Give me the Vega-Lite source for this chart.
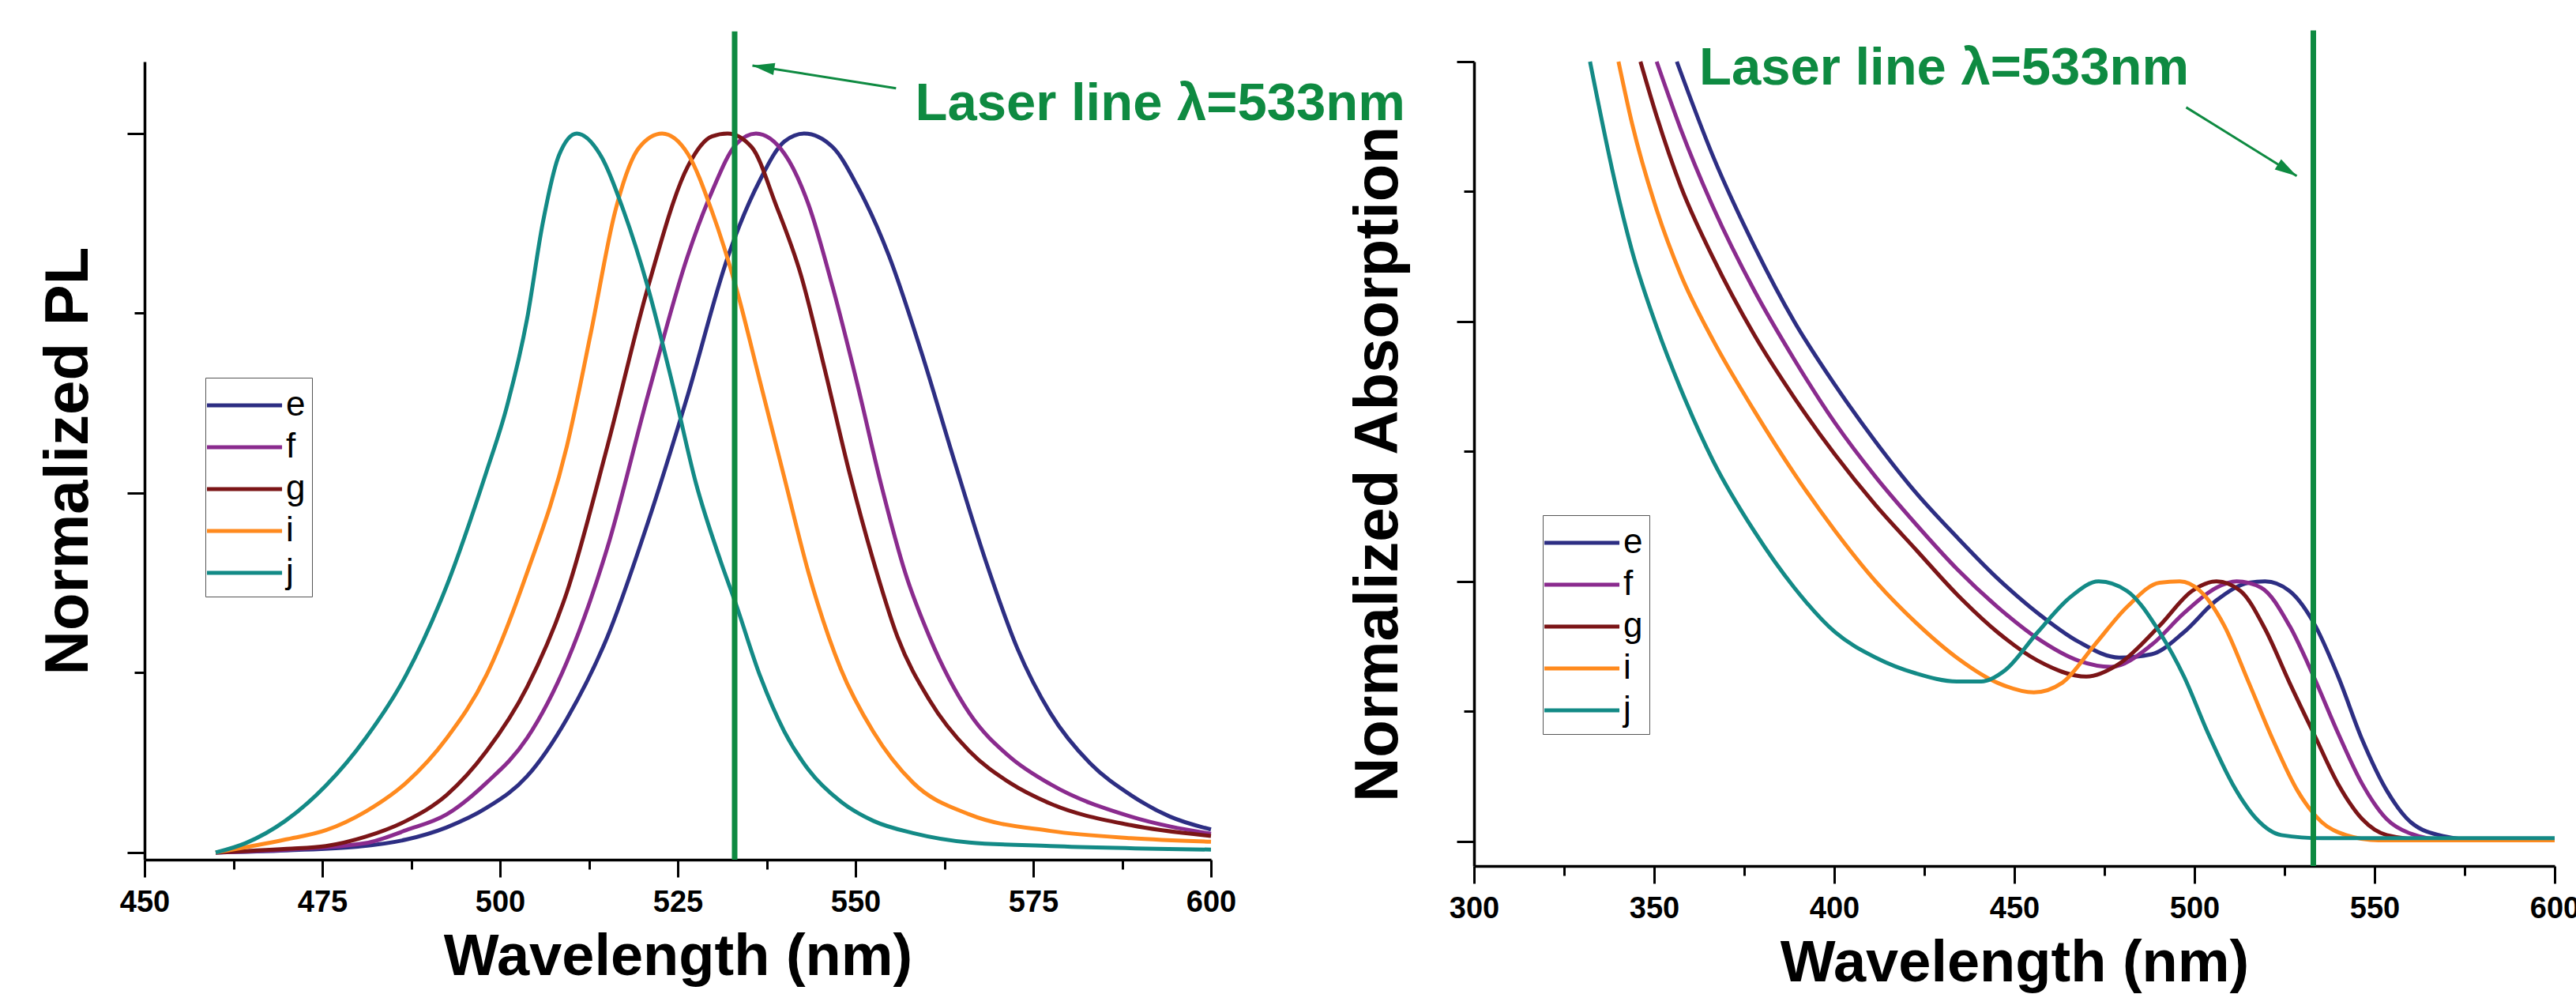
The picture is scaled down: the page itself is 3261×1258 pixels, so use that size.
{
  "$schema": "https://vega.github.io/schema/vega-lite/v6.json",
  "background": "white",
  "padding": {"left": 48, "top": 35, "right": 5, "bottom": 5},
  "bounds": "flush",
  "spacing": 333,
  "config": {
    "view": {"stroke": null},
    "axis": {
      "grid": false,
      "labelFont": "Liberation Sans", "labelFontWeight": "bold", "labelFontSize": 38, "labelColor": "#000",
      "titleFont": "Liberation Sans", "titleFontWeight": "bold", "titleFontSize": 74, "titleColor": "#000",
      "domainColor": "#000", "domainWidth": 3.5, "tickColor": "#000", "tickWidth": 3
    },
    "legend": {"labelFont": "Liberation Sans", "labelFontSize": 44, "labelColor": "#000"}
  },
  "datasets": {
    "pl": [
      {"s":"e","wl":460,"v":0},{"s":"e","wl":470,"v":0.003},{"s":"e","wl":480,"v":0.008},{"s":"e","wl":486.8,"v":0.018},{"s":"e","wl":492.5,"v":0.035},{"s":"e","wl":498.1,"v":0.062},{"s":"e","wl":503.8,"v":0.106},{"s":"e","wl":509.4,"v":0.186},{"s":"e","wl":515.1,"v":0.3},{"s":"e","wl":520.8,"v":0.459},{"s":"e","wl":526.4,"v":0.636},{"s":"e","wl":532.1,"v":0.83},{"s":"e","wl":536.6,"v":0.936},{"s":"e","wl":540,"v":0.989},{"s":"e","wl":542.8,"v":1.0},{"s":"e","wl":546.8,"v":0.981},{"s":"e","wl":550.2,"v":0.928},{"s":"e","wl":554.7,"v":0.83},{"s":"e","wl":559.2,"v":0.698},{"s":"e","wl":563.8,"v":0.548},{"s":"e","wl":568.3,"v":0.406},{"s":"e","wl":572.8,"v":0.283},{"s":"e","wl":577.4,"v":0.194},{"s":"e","wl":583,"v":0.124},{"s":"e","wl":588.7,"v":0.08},{"s":"e","wl":594.2,"v":0.05},{"s":"e","wl":600,"v":0.032},
      {"s":"f","wl":460,"v":0},{"s":"f","wl":470,"v":0.004},{"s":"f","wl":481.1,"v":0.013},{"s":"f","wl":486.8,"v":0.031},{"s":"f","wl":492.5,"v":0.053},{"s":"f","wl":498.1,"v":0.097},{"s":"f","wl":503.8,"v":0.159},{"s":"f","wl":509.4,"v":0.265},{"s":"f","wl":515.1,"v":0.424},{"s":"f","wl":520.8,"v":0.636},{"s":"f","wl":526.4,"v":0.83},{"s":"f","wl":529.8,"v":0.919},{"s":"f","wl":533.2,"v":0.985},{"s":"f","wl":536,"v":1.0},{"s":"f","wl":540,"v":0.972},{"s":"f","wl":543.4,"v":0.901},{"s":"f","wl":546.8,"v":0.786},{"s":"f","wl":550.2,"v":0.654},{"s":"f","wl":553.6,"v":0.512},{"s":"f","wl":557,"v":0.389},{"s":"f","wl":560.4,"v":0.3},{"s":"f","wl":566,"v":0.194},{"s":"f","wl":571.7,"v":0.133},{"s":"f","wl":577.4,"v":0.095},{"s":"f","wl":588.7,"v":0.05},{"s":"f","wl":600,"v":0.026},
      {"s":"g","wl":460,"v":0},{"s":"g","wl":470,"v":0.005},{"s":"g","wl":475.5,"v":0.009},{"s":"g","wl":481.1,"v":0.022},{"s":"g","wl":486.8,"v":0.044},{"s":"g","wl":492.5,"v":0.08},{"s":"g","wl":498.1,"v":0.141},{"s":"g","wl":503.8,"v":0.23},{"s":"g","wl":509.4,"v":0.362},{"s":"g","wl":515.1,"v":0.565},{"s":"g","wl":520.8,"v":0.786},{"s":"g","wl":526.4,"v":0.954},{"s":"g","wl":529.8,"v":0.996},{"s":"g","wl":532,"v":1.0},{"s":"g","wl":535.4,"v":0.981},{"s":"g","wl":538.8,"v":0.901},{"s":"g","wl":542.3,"v":0.804},{"s":"g","wl":545.7,"v":0.671},{"s":"g","wl":549.1,"v":0.53},{"s":"g","wl":552.5,"v":0.406},{"s":"g","wl":555.9,"v":0.3},{"s":"g","wl":560.4,"v":0.212},{"s":"g","wl":566,"v":0.141},{"s":"g","wl":571.7,"v":0.097},{"s":"g","wl":577.4,"v":0.068},{"s":"g","wl":588.7,"v":0.038},{"s":"g","wl":600,"v":0.023},
      {"s":"i","wl":460,"v":0},{"s":"i","wl":469.8,"v":0.018},{"s":"i","wl":475.5,"v":0.031},{"s":"i","wl":481.1,"v":0.057},{"s":"i","wl":486.8,"v":0.097},{"s":"i","wl":492.5,"v":0.159},{"s":"i","wl":498.1,"v":0.247},{"s":"i","wl":503.8,"v":0.389},{"s":"i","wl":509.4,"v":0.565},{"s":"i","wl":512.8,"v":0.724},{"s":"i","wl":516.2,"v":0.892},{"s":"i","wl":519.6,"v":0.981},{"s":"i","wl":522.8,"v":1.0},{"s":"i","wl":526.4,"v":0.972},{"s":"i","wl":529.8,"v":0.892},{"s":"i","wl":533.2,"v":0.786},{"s":"i","wl":536.6,"v":0.654},{"s":"i","wl":540,"v":0.521},{"s":"i","wl":543.4,"v":0.389},{"s":"i","wl":547.9,"v":0.256},{"s":"i","wl":552.5,"v":0.168},{"s":"i","wl":558.1,"v":0.097},{"s":"i","wl":566,"v":0.053},{"s":"i","wl":577.4,"v":0.03},{"s":"i","wl":588.7,"v":0.02},{"s":"i","wl":600,"v":0.015},
      {"s":"j","wl":460,"v":0},{"s":"j","wl":464.2,"v":0.013},{"s":"j","wl":469.8,"v":0.044},{"s":"j","wl":475.5,"v":0.093},{"s":"j","wl":481.1,"v":0.159},{"s":"j","wl":486.8,"v":0.247},{"s":"j","wl":492.5,"v":0.371},{"s":"j","wl":498.1,"v":0.53},{"s":"j","wl":500.9,"v":0.618},{"s":"j","wl":503.8,"v":0.742},{"s":"j","wl":506,"v":0.875},{"s":"j","wl":508.3,"v":0.97},{"s":"j","wl":510.8,"v":1.0},{"s":"j","wl":514,"v":0.972},{"s":"j","wl":517.4,"v":0.892},{"s":"j","wl":520.8,"v":0.786},{"s":"j","wl":524.2,"v":0.654},{"s":"j","wl":527.6,"v":0.512},{"s":"j","wl":531,"v":0.406},{"s":"j","wl":533.2,"v":0.345},{"s":"j","wl":536.6,"v":0.245},{"s":"j","wl":540,"v":0.168},{"s":"j","wl":543.4,"v":0.115},{"s":"j","wl":547.9,"v":0.071},{"s":"j","wl":552.5,"v":0.044},{"s":"j","wl":558.1,"v":0.027},{"s":"j","wl":566,"v":0.014},{"s":"j","wl":577.4,"v":0.009},{"s":"j","wl":600,"v":0.004}
    ],
    "abs": [
      {"s":"e","wl":356.3,"v":3.0},{"s":"e","wl":366.4,"v":2.634},{"s":"e","wl":377.7,"v":2.293},{"s":"e","wl":388.9,"v":2.0},{"s":"e","wl":400.2,"v":1.756},{"s":"e","wl":411.5,"v":1.537},{"s":"e","wl":422.7,"v":1.341},{"s":"e","wl":434,"v":1.171},{"s":"e","wl":445.3,"v":1.012},{"s":"e","wl":456.5,"v":0.878},{"s":"e","wl":467.8,"v":0.768},{"s":"e","wl":479.1,"v":0.707},{"s":"e","wl":488.1,"v":0.72},{"s":"e","wl":497.1,"v":0.805},{"s":"e","wl":506.1,"v":0.927},{"s":"e","wl":515.1,"v":0.995},{"s":"e","wl":519.6,"v":1.0},{"s":"e","wl":526.4,"v":0.963},{"s":"e","wl":533.1,"v":0.841},{"s":"e","wl":539.9,"v":0.634},{"s":"e","wl":546.6,"v":0.39},{"s":"e","wl":553.4,"v":0.195},{"s":"e","wl":560.1,"v":0.073},{"s":"e","wl":569.1,"v":0.02},{"s":"e","wl":578.2,"v":0.006},{"s":"e","wl":600,"v":0.008},
      {"s":"f","wl":350.7,"v":3.0},{"s":"f","wl":357.4,"v":2.74},{"s":"f","wl":366.4,"v":2.439},{"s":"f","wl":377.7,"v":2.122},{"s":"f","wl":388.9,"v":1.854},{"s":"f","wl":400.2,"v":1.61},{"s":"f","wl":411.5,"v":1.402},{"s":"f","wl":422.7,"v":1.22},{"s":"f","wl":434,"v":1.049},{"s":"f","wl":445.3,"v":0.902},{"s":"f","wl":456.5,"v":0.78},{"s":"f","wl":467.8,"v":0.695},{"s":"f","wl":476.8,"v":0.671},{"s":"f","wl":488.1,"v":0.756},{"s":"f","wl":497.1,"v":0.878},{"s":"f","wl":506.1,"v":0.976},{"s":"f","wl":511.7,"v":1.0},{"s":"f","wl":518.5,"v":0.976},{"s":"f","wl":526.4,"v":0.829},{"s":"f","wl":533.1,"v":0.634},{"s":"f","wl":539.9,"v":0.415},{"s":"f","wl":546.6,"v":0.22},{"s":"f","wl":553.4,"v":0.085},{"s":"f","wl":560.1,"v":0.029},{"s":"f","wl":569.1,"v":0.006},{"s":"f","wl":600,"v":0.006},
      {"s":"g","wl":346.2,"v":3.0},{"s":"g","wl":350.7,"v":2.79},{"s":"g","wl":357.4,"v":2.52},{"s":"g","wl":366.4,"v":2.244},{"s":"g","wl":377.7,"v":1.951},{"s":"g","wl":388.9,"v":1.707},{"s":"g","wl":400.2,"v":1.488},{"s":"g","wl":411.5,"v":1.293},{"s":"g","wl":422.7,"v":1.122},{"s":"g","wl":434,"v":0.951},{"s":"g","wl":445.3,"v":0.805},{"s":"g","wl":456.5,"v":0.695},{"s":"g","wl":470,"v":0.634},{"s":"g","wl":479.1,"v":0.683},{"s":"g","wl":490.3,"v":0.829},{"s":"g","wl":499.3,"v":0.963},{"s":"g","wl":506.1,"v":1.0},{"s":"g","wl":512.8,"v":0.963},{"s":"g","wl":519.6,"v":0.817},{"s":"g","wl":526.4,"v":0.61},{"s":"g","wl":533.1,"v":0.415},{"s":"g","wl":539.9,"v":0.22},{"s":"g","wl":546.6,"v":0.085},{"s":"g","wl":553.4,"v":0.024},{"s":"g","wl":564.6,"v":0.005},{"s":"g","wl":600,"v":0.005},
      {"s":"i","wl":340.1,"v":3.0},{"s":"i","wl":343.9,"v":2.76},{"s":"i","wl":350.7,"v":2.43},{"s":"i","wl":357.4,"v":2.18},{"s":"i","wl":366.4,"v":1.927},{"s":"i","wl":377.7,"v":1.659},{"s":"i","wl":388.9,"v":1.415},{"s":"i","wl":400.2,"v":1.195},{"s":"i","wl":411.5,"v":1.0},{"s":"i","wl":422.7,"v":0.841},{"s":"i","wl":434,"v":0.707},{"s":"i","wl":445.3,"v":0.61},{"s":"i","wl":455.4,"v":0.573},{"s":"i","wl":463.3,"v":0.61},{"s":"i","wl":472.3,"v":0.756},{"s":"i","wl":481.3,"v":0.902},{"s":"i","wl":490.3,"v":0.995},{"s":"i","wl":495.9,"v":1.0},{"s":"i","wl":501.6,"v":0.963},{"s":"i","wl":508.3,"v":0.829},{"s":"i","wl":515.1,"v":0.61},{"s":"i","wl":521.8,"v":0.39},{"s":"i","wl":528.6,"v":0.195},{"s":"i","wl":535.4,"v":0.073},{"s":"i","wl":542.1,"v":0.024},{"s":"i","wl":551.1,"v":0.004},{"s":"i","wl":600,"v":0.004},
      {"s":"j","wl":332.2,"v":3.0},{"s":"j","wl":339.4,"v":2.52},{"s":"j","wl":343.9,"v":2.27},{"s":"j","wl":350.7,"v":1.98},{"s":"j","wl":357.4,"v":1.74},{"s":"j","wl":366.4,"v":1.463},{"s":"j","wl":377.7,"v":1.195},{"s":"j","wl":388.9,"v":0.976},{"s":"j","wl":400.2,"v":0.805},{"s":"j","wl":411.5,"v":0.707},{"s":"j","wl":422.7,"v":0.646},{"s":"j","wl":434,"v":0.615},{"s":"j","wl":440.8,"v":0.615},{"s":"j","wl":447.5,"v":0.659},{"s":"j","wl":456.5,"v":0.805},{"s":"j","wl":465.5,"v":0.939},{"s":"j","wl":473.4,"v":1.0},{"s":"j","wl":481.3,"v":0.963},{"s":"j","wl":490.3,"v":0.805},{"s":"j","wl":497.1,"v":0.634},{"s":"j","wl":503.8,"v":0.415},{"s":"j","wl":510.6,"v":0.22},{"s":"j","wl":517.3,"v":0.085},{"s":"j","wl":524.1,"v":0.024},{"s":"j","wl":535.4,"v":0.012},{"s":"j","wl":600,"v":0.012}
    ]
  },
  "resolve": {"scale": {"color": "independent"}, "legend": {"color": "independent"}},
  "hconcat": [
    {
      "width": 1350, "height": 1010,
      "resolve": {"axis": {"x": "independent", "y": "independent"}},
      "layer": [
        {
          "data": {"name": "pl"},
          "mark": {"type": "line", "strokeWidth": 5, "interpolate": "monotone"},
          "encoding": {
            "x": {"field": "wl", "type": "quantitative", "scale": {"domain": [450, 600], "nice": false, "zero": false},
                  "axis": {"orient": "bottom", "title": "Wavelength (nm)", "values": [450,475,500,525,550,575,600], "format": "d", "tickSize": 22, "labelPadding": 13, "titlePadding": 14, "labelFlush": false, "labelOverlap": false}},
            "y": {"field": "v", "type": "quantitative", "scale": {"domain": [-0.01, 1.1], "nice": false, "zero": false},
                  "axis": {"orient": "left", "title": "Normalized PL", "titleFontSize": 78, "values": [0, 0.5, 1], "labels": false, "tickSize": 22, "titlePadding": 33}},
            "color": {"field": "s", "type": "nominal",
                      "scale": {"domain": ["e","f","g","i","j"], "range": ["#2d2e83","#8a2b8e","#7b1517","#ff8a1e","#138a86"]},
                      "legend": {"title": null, "orient": "none", "legendX": 77, "legendY": 400, "symbolType": "M 0 0 L 3.88 0", "symbolSize": 2401, "symbolStrokeWidth": 5, "symbolOffset": -33, "labelOffset": 73, "rowPadding": 4, "padding": 8, "strokeColor": "#555555"}}
          }
        },
        {
          "data": {"values": [{"x": 533, "y1": -0.01, "y2": 1.142}]},
          "mark": {"type": "rule", "color": "#0e8a41", "strokeWidth": 7},
          "encoding": {
            "x": {"field": "x", "type": "quantitative", "scale": {"domain": [450, 600], "nice": false, "zero": false},
                  "axis": {"orient": "bottom", "title": null, "values": [462.5,487.5,512.5,537.5,562.5,587.5], "labels": false, "domain": false, "tickSize": 12}},
            "y": {"field": "y1", "type": "quantitative", "scale": {"domain": [-0.01, 1.1], "nice": false, "zero": false},
                  "axis": {"orient": "left", "title": null, "values": [0.25, 0.75], "labels": false, "domain": false, "tickSize": 13}},
            "y2": {"field": "y2"}
          }
        },
        {
          "data": {"values": [{"x": 555.7, "y": 1.063, "o": 0}, {"x": 535.5, "y": 1.0945, "o": 1}]},
          "mark": {"type": "line", "color": "#0e8a41", "strokeWidth": 3},
          "encoding": {
            "x": {"field": "x", "type": "quantitative", "scale": {"domain": [450, 600], "nice": false, "zero": false}, "axis": null},
            "y": {"field": "y", "type": "quantitative", "scale": {"domain": [-0.01, 1.1], "nice": false, "zero": false}, "axis": null},
            "order": {"field": "o", "type": "quantitative"}
          }
        },
        {
          "data": {"values": [{"x": 535.5, "y": 1.0945}]},
          "mark": {"type": "point", "shape": "M 0 0 L -2 -0.55 L -2 0.55 Z", "filled": true, "opacity": 1, "color": "#0e8a41", "size": 784, "angle": 189},
          "encoding": {
            "x": {"field": "x", "type": "quantitative", "scale": {"domain": [450, 600], "nice": false, "zero": false}, "axis": null},
            "y": {"field": "y", "type": "quantitative", "scale": {"domain": [-0.01, 1.1], "nice": false, "zero": false}, "axis": null}
          }
        },
        {
          "data": {"values": [{"x": 558.4, "y": 1.0187, "t": "Laser line λ=533nm"}]},
          "mark": {"type": "text", "align": "left", "baseline": "alphabetic", "font": "Liberation Sans", "fontWeight": "bold", "fontSize": 67, "color": "#0e8a41"},
          "encoding": {
            "x": {"field": "x", "type": "quantitative", "scale": {"domain": [450, 600], "nice": false, "zero": false}, "axis": null},
            "y": {"field": "y", "type": "quantitative", "scale": {"domain": [-0.01, 1.1], "nice": false, "zero": false}, "axis": null},
            "text": {"field": "t", "type": "nominal"}
          }
        }
      ]
    },
    {
      "width": 1368, "height": 1018,
      "resolve": {"axis": {"x": "independent", "y": "independent"}},
      "layer": [
        {
          "data": {"name": "abs"},
          "mark": {"type": "line", "strokeWidth": 5, "interpolate": "monotone"},
          "encoding": {
            "x": {"field": "wl", "type": "quantitative", "scale": {"domain": [300, 600], "nice": false, "zero": false},
                  "axis": {"orient": "bottom", "title": "Wavelength (nm)", "values": [300,350,400,450,500,550,600], "format": "d", "tickSize": 22, "labelPadding": 13, "titlePadding": 14, "labelFlush": false, "labelOverlap": false}},
            "y": {"field": "v", "type": "quantitative", "scale": {"domain": [-0.095, 3.0], "nice": false, "zero": false},
                  "axis": {"orient": "left", "title": "Normalized Absorption", "titleFontSize": 78, "values": [0, 1, 2, 3], "labels": false, "tickSize": 22, "titlePadding": 58}},
            "color": {"field": "s", "type": "nominal",
                      "scale": {"domain": ["e","f","g","i","j"], "range": ["#2d2e83","#8a2b8e","#7b1517","#ff8a1e","#138a86"]},
                      "legend": {"title": null, "orient": "none", "legendX": 87, "legendY": 574, "symbolType": "M 0 0 L 3.88 0", "symbolSize": 2401, "symbolStrokeWidth": 5, "symbolOffset": -33, "labelOffset": 73, "rowPadding": 4, "padding": 8, "strokeColor": "#555555"}}
          }
        },
        {
          "data": {"values": [{"x": 533, "y1": -0.095, "y2": 3.12}]},
          "mark": {"type": "rule", "color": "#0e8a41", "strokeWidth": 7},
          "encoding": {
            "x": {"field": "x", "type": "quantitative", "scale": {"domain": [300, 600], "nice": false, "zero": false},
                  "axis": {"orient": "bottom", "title": null, "values": [325,375,425,475,525,575], "labels": false, "domain": false, "tickSize": 12}},
            "y": {"field": "y1", "type": "quantitative", "scale": {"domain": [-0.095, 3.0], "nice": false, "zero": false},
                  "axis": {"orient": "left", "title": null, "values": [0.5, 1.5, 2.5], "labels": false, "domain": false, "tickSize": 13}},
            "y2": {"field": "y2"}
          }
        },
        {
          "data": {"values": [{"x": 497.7, "y": 2.824, "o": 0}, {"x": 528.4, "y": 2.56, "o": 1}]},
          "mark": {"type": "line", "color": "#0e8a41", "strokeWidth": 3},
          "encoding": {
            "x": {"field": "x", "type": "quantitative", "scale": {"domain": [300, 600], "nice": false, "zero": false}, "axis": null},
            "y": {"field": "y", "type": "quantitative", "scale": {"domain": [-0.095, 3.0], "nice": false, "zero": false}, "axis": null},
            "order": {"field": "o", "type": "quantitative"}
          }
        },
        {
          "data": {"values": [{"x": 528.4, "y": 2.56}]},
          "mark": {"type": "point", "shape": "M 0 0 L -2 -0.55 L -2 0.55 Z", "filled": true, "opacity": 1, "color": "#0e8a41", "size": 784, "angle": 31.7},
          "encoding": {
            "x": {"field": "x", "type": "quantitative", "scale": {"domain": [300, 600], "nice": false, "zero": false}, "axis": null},
            "y": {"field": "y", "type": "quantitative", "scale": {"domain": [-0.095, 3.0], "nice": false, "zero": false}, "axis": null}
          }
        },
        {
          "data": {"values": [{"x": 362.5, "y": 2.912, "t": "Laser line λ=533nm"}]},
          "mark": {"type": "text", "align": "left", "baseline": "alphabetic", "font": "Liberation Sans", "fontWeight": "bold", "fontSize": 67, "color": "#0e8a41"},
          "encoding": {
            "x": {"field": "x", "type": "quantitative", "scale": {"domain": [300, 600], "nice": false, "zero": false}, "axis": null},
            "y": {"field": "y", "type": "quantitative", "scale": {"domain": [-0.095, 3.0], "nice": false, "zero": false}, "axis": null},
            "text": {"field": "t", "type": "nominal"}
          }
        }
      ]
    }
  ]
}
